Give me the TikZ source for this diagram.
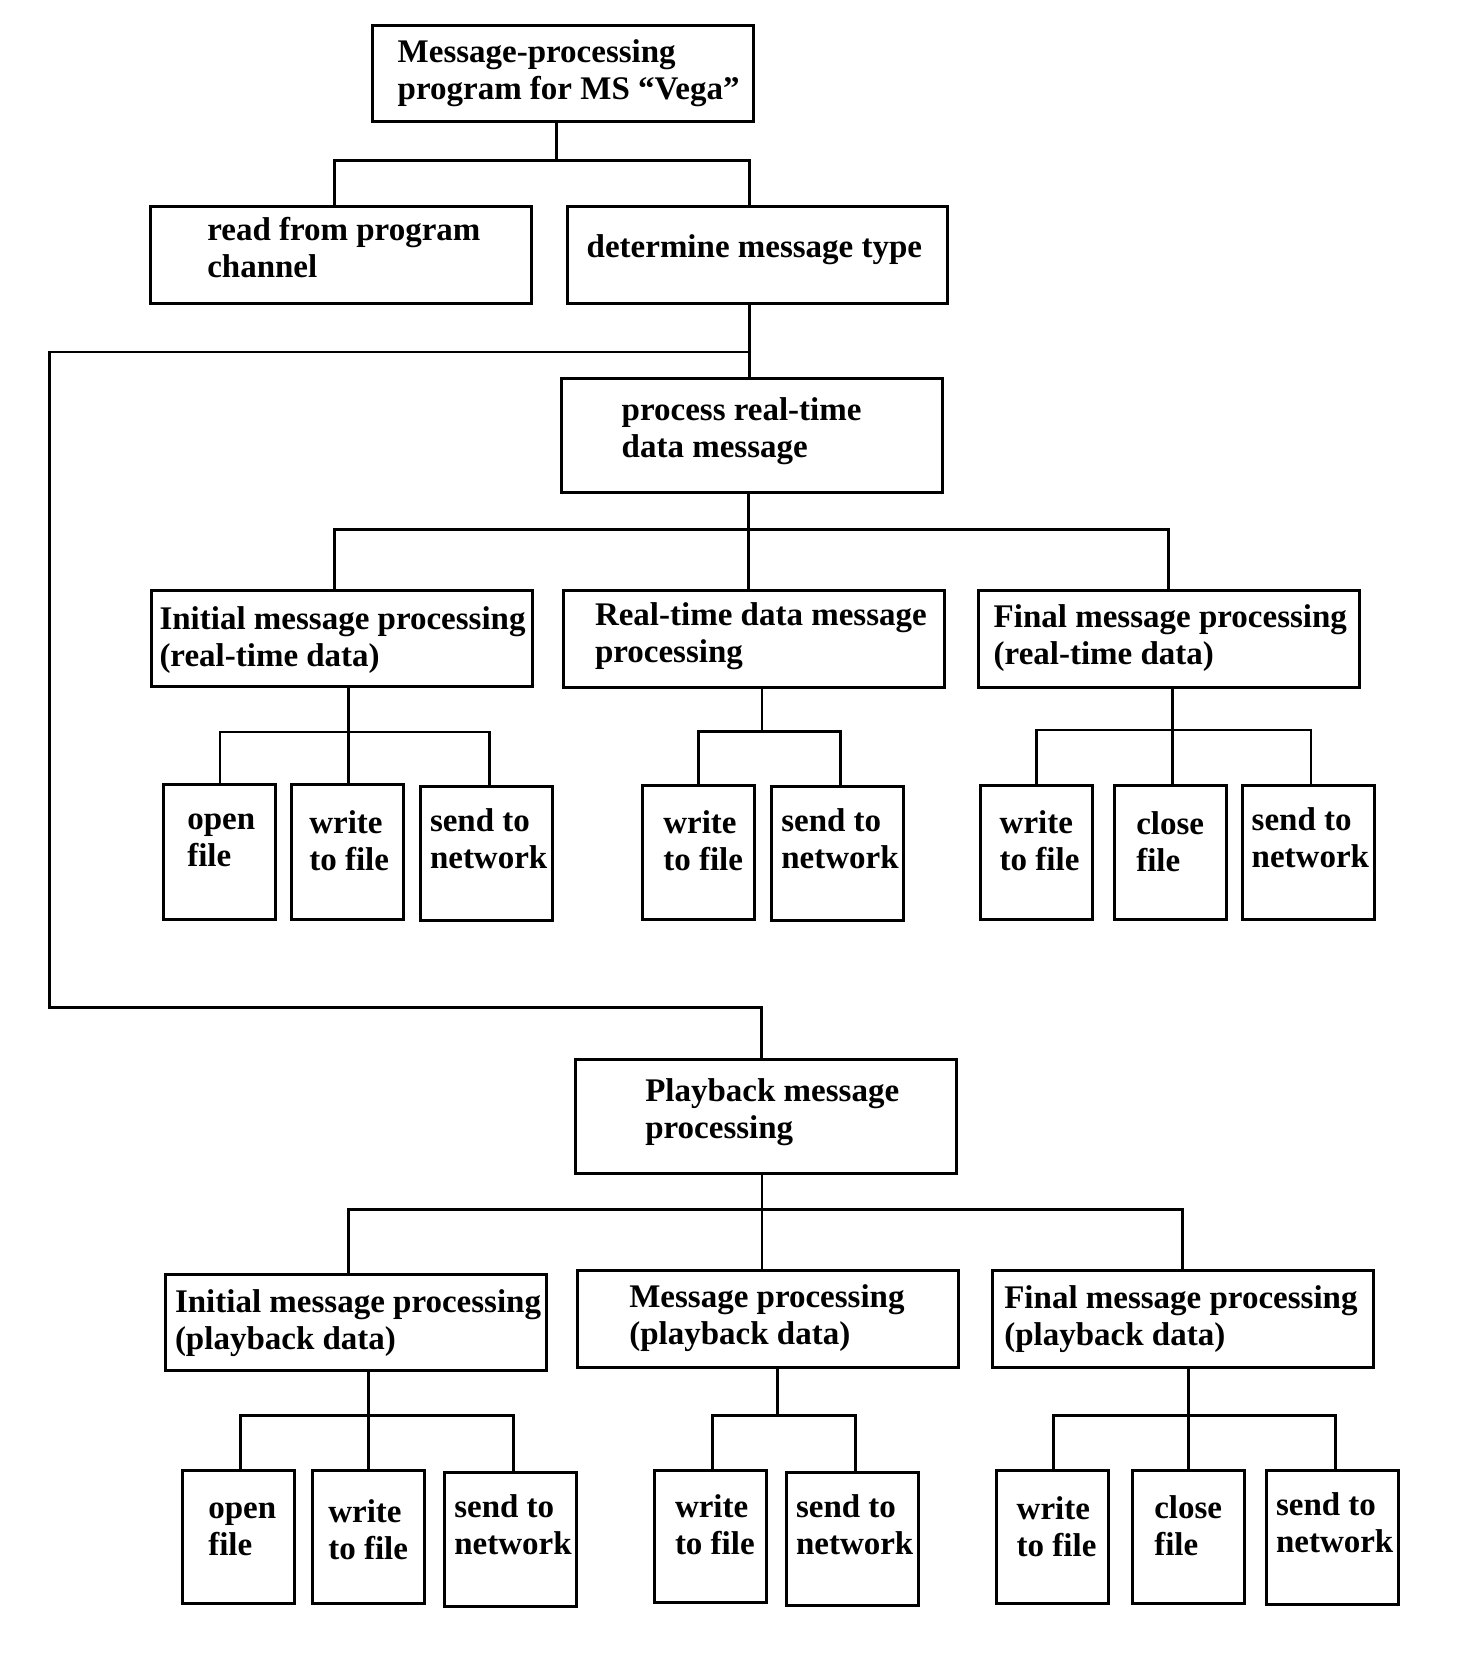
\documentclass[tikz,border=0pt]{standalone}
\usepackage{fontspec}
\setmainfont{Liberation Serif}
\tikzset{
  box/.style={draw, line width=3pt, inner sep=0pt, outer sep=0pt, anchor=north west},
  txt/.style={inner sep=0pt, outer sep=0pt, anchor=north west, align=left,
    font=\fontsize{33}{37}\selectfont\bfseries},
  conn/.style={draw, line width=2.8pt}
}
\newcommand\mkbox[5]{\node[box, minimum width={(#4-#2)*1pt}, minimum height={(#5-#3)*1pt}] (#1) at (#2,#3) {};}
\newcommand\mktext[4]{\node[txt] (#1) at ({#2},{#3-30}) {\rule{0pt}{30pt}#4};}
\begin{document}
\begin{tikzpicture}[x=1pt,y=-1pt]
\useasboundingbox[fill=white] (0,0) rectangle (1468,1672);
% boxes
\mkbox{top}{372}{25.3}{753.7}{121.7}
\mkbox{read}{150}{206.7}{531.7}{303.3}
\mkbox{det}{567}{206.7}{947.7}{303.3}
\mkbox{proc}{561}{378.7}{942.4}{492.7}
\mkbox{iRT}{151}{590.7}{532.7}{686.7}
\mkbox{mRT}{563.3}{590.7}{944.3}{687.3}
\mkbox{fRT}{978.3}{590.7}{1359.7}{687.3}
\mkbox{a1}{163.3}{784.7}{275.7}{919.3}
\mkbox{a2}{291.3}{784.7}{403.7}{919.3}
\mkbox{a3}{420}{786.7}{552.7}{920.3}
\mkbox{b1}{642.3}{785.7}{754.3}{919.3}
\mkbox{b2}{771.3}{786.7}{903.3}{920}
\mkbox{c1}{980.3}{785}{1092.3}{919.3}
\mkbox{c2}{1114.3}{785.7}{1226.7}{919.3}
\mkbox{c3}{1242.3}{785.7}{1374.7}{919.3}
\mkbox{pb}{575.3}{1059}{956.7}{1173}
\mkbox{iPB}{165.3}{1274.7}{546.7}{1370.3}
\mkbox{mPB}{577.3}{1270.7}{958.3}{1367.3}
\mkbox{fPB}{992.3}{1270.7}{1373.7}{1367}
\mkbox{d1}{182.7}{1470.3}{294.3}{1603.3}
\mkbox{d2}{312.7}{1470.3}{424.7}{1603.3}
\mkbox{d3}{444.3}{1472.7}{576.7}{1606}
\mkbox{e1}{654.3}{1470.7}{766.7}{1602.7}
\mkbox{e2}{786.3}{1472.3}{918}{1605.7}
\mkbox{f1}{996}{1470.3}{1108.3}{1603.3}
\mkbox{f2}{1132.3}{1470.3}{1244.3}{1603.3}
\mkbox{f3}{1266.3}{1470.3}{1398.3}{1604}
% texts
\mktext{ttop}{397.7}{62.5}{Message-processing\\program for MS “Vega”}
\mktext{tread}{207.3}{240.5}{read from program\\channel}
\mktext{tdet}{586.7}{257.5}{determine message type}
\mktext{tproc}{621.7}{420}{process real-time\\data message}
\mktext{tiRT}{159.5}{629}{Initial message processing\\(real-time data)}
\mktext{tmRT}{595}{625}{Real-time data message\\processing}
\mktext{tfRT}{993.7}{627}{Final message processing\\(real-time data)}
\mktext{ta1}{187.3}{829}{open\\file}
\mktext{ta2}{309.3}{833}{write\\to file}
\mktext{ta3}{430}{831}{send to\\network}
\mktext{tb1}{663.3}{833.5}{write\\to file}
\mktext{tb2}{781.3}{831}{send to\\network}
\mktext{tc1}{999.7}{833.5}{write\\to file}
\mktext{tc2}{1136.3}{834}{close\\file}
\mktext{tc3}{1251.7}{830}{send to\\network}
\mktext{tpb}{645.3}{1101}{Playback message\\processing}
\mktext{tiPB}{175}{1312}{Initial message processing\\(playback data)}
\mktext{tmPB}{629.3}{1307}{Message processing\\(playback data)}
\mktext{tfPB}{1004.3}{1308}{Final message processing\\(playback data)}
\mktext{td1}{208.3}{1518}{open\\file}
\mktext{td2}{328.3}{1522.5}{write\\to file}
\mktext{td3}{454.3}{1517}{send to\\network}
\mktext{te1}{675}{1517.5}{write\\to file}
\mktext{te2}{796}{1517.5}{send to\\network}
\mktext{tf1}{1016.7}{1519}{write\\to file}
\mktext{tf2}{1154.3}{1518}{close\\file}
\mktext{tf3}{1276}{1515}{send to\\network}
% junction coordinates
\coordinate (j0) at (556.7,160.3);
\coordinate (j0L) at (334.3,160.3);
\coordinate (j0R) at (749.3,160.3);
\coordinate (j1) at (749.3,352);
\coordinate (lpA) at (49.3,352);
\coordinate (lpB) at (49.3,1007.7);
\coordinate (pbin) at (761.3,1007.7);
\coordinate (p0) at (748.3,529.3);
\coordinate (pL) at (334.3,529.3);
\coordinate (pR) at (1168.3,529.3);
\coordinate (g1) at (348.3,732);
\coordinate (g1L) at (220,732);
\coordinate (g1R) at (489.3,732);
\coordinate (g2) at (762,731.3);
\coordinate (g2L) at (698.3,731.3);
\coordinate (g2R) at (840.3,731.3);
\coordinate (g3) at (1172.3,730);
\coordinate (g3L) at (1036.3,730);
\coordinate (g3R) at (1311,730);
\coordinate (g4) at (762,1209.3);
\coordinate (g4L) at (348.3,1209.3);
\coordinate (g4R) at (1182.3,1209.3);
\coordinate (g5) at (368.7,1415.7);
\coordinate (g5L) at (240.3,1415.7);
\coordinate (g5R) at (513.3,1415.7);
\coordinate (g6) at (777.3,1415.3);
\coordinate (g6L) at (712.3,1415.3);
\coordinate (g6R) at (855.7,1415.3);
\coordinate (g7) at (1188.3,1415.7);
\coordinate (g7L) at (1053.3,1415.7);
\coordinate (g7R) at (1335.3,1415.7);
% connectors
\draw[conn] (top.south -| j0) -- (j0);
\draw[conn] (read.north -| j0L) |- (j0R) -- (det.north -| j0R);
\draw[conn] (det.south -| j1) -- (proc.north -| j1);
\draw[conn] (j1) -- (lpA) -- (lpB) -- (pbin) -- (pb.north -| pbin);
\draw[conn] (proc.south -| p0) -- (mRT.north -| p0);
\draw[conn] (iRT.north -| pL) |- (pR) -- (fRT.north -| pR);
\draw[conn] (iRT.south -| g1) -- (a2.north -| g1);
\draw[conn] (a1.north -| g1L) |- (g1R) -- (a3.north -| g1R);
\draw[conn] (mRT.south -| g2) -- (g2);
\draw[conn] (b1.north -| g2L) |- (g2R) -- (b2.north -| g2R);
\draw[conn] (fRT.south -| g3) -- (c2.north -| g3);
\draw[conn] (c1.north -| g3L) |- (g3R) -- (c3.north -| g3R);
\draw[conn] (pb.south -| g4) -- (mPB.north -| g4);
\draw[conn] (iPB.north -| g4L) |- (g4R) -- (fPB.north -| g4R);
\draw[conn] (iPB.south -| g5) -- (d2.north -| g5);
\draw[conn] (d1.north -| g5L) |- (g5R) -- (d3.north -| g5R);
\draw[conn] (mPB.south -| g6) -- (g6);
\draw[conn] (e1.north -| g6L) |- (g6R) -- (e2.north -| g6R);
\draw[conn] (fPB.south -| g7) -- (f2.north -| g7);
\draw[conn] (f1.north -| g7L) |- (g7R) -- (f3.north -| g7R);
\end{tikzpicture}
\end{document}
